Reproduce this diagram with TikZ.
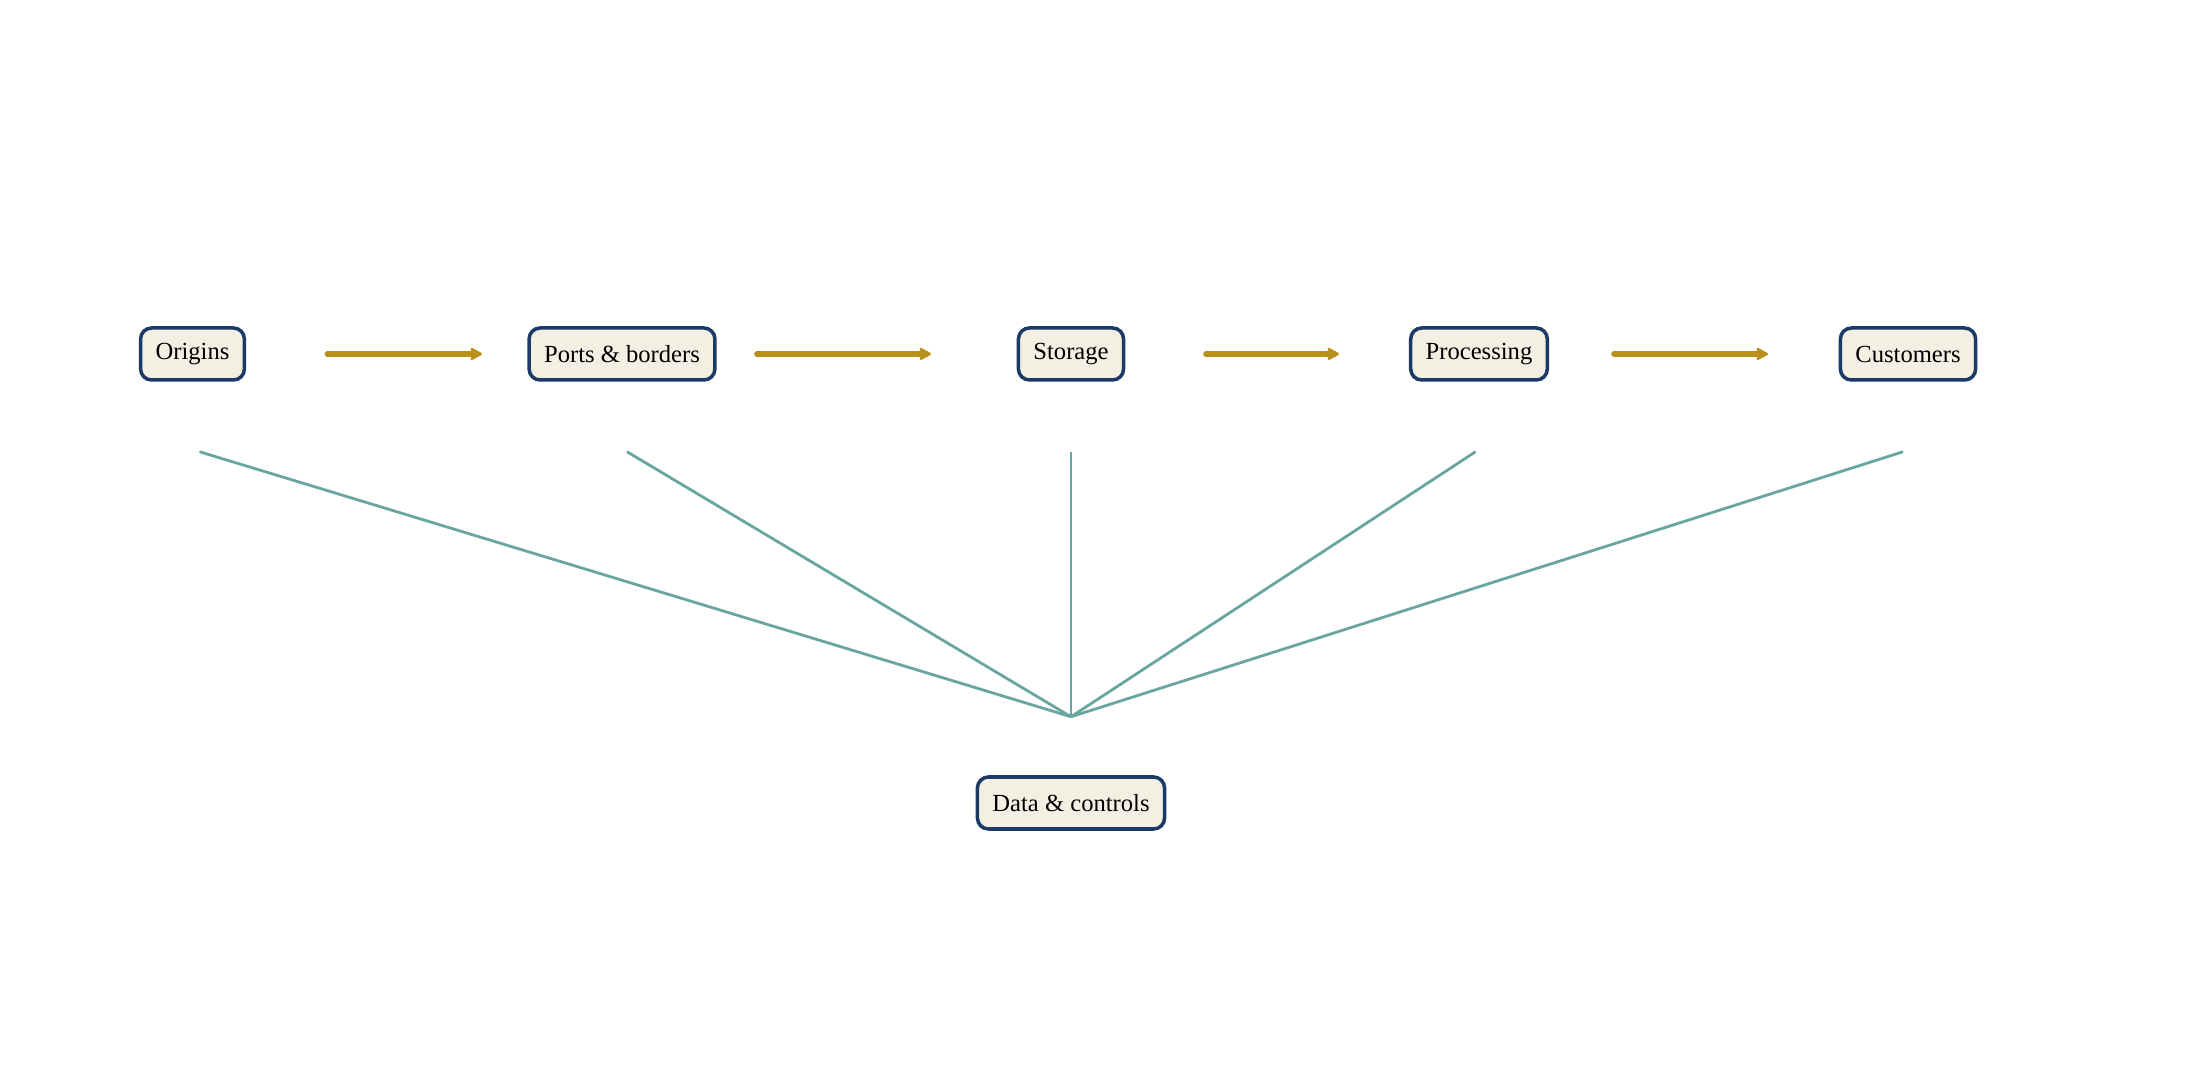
\documentclass[tikz,border=0pt]{standalone}
\usepackage{fontspec}
\setmainfont{Liberation Serif}
\usetikzlibrary{arrows.meta,positioning}

\definecolor{boxfill}{HTML}{F3EFE3}
\definecolor{boxline}{HTML}{1B3A66}
\definecolor{flowcol}{HTML}{B8901A}
\definecolor{linkcol}{HTML}{6AA6A0}

\begin{document}
\begin{tikzpicture}
\tikzstyle{stage} = [rectangle, draw=boxline, fill=boxfill, line width=2pt,
    rounded corners=0.22cm, inner xsep=0.3cm, minimum height=1.04cm,
    font=\fontsize{14}{16}\selectfont]
\tikzstyle{flow} = [draw=flowcol, line width=3.2pt, -{Stealth[length=0.3cm,width=0.32cm,round]},
    line cap=round, shorten <=2.7cm, shorten >=2.8cm]
\tikzstyle{link} = [draw=linkcol, line width=1.6pt]

\useasboundingbox (0,0) rectangle (43.74,21.74);

\node [stage] (origins) at (3.85,14.66) {Origins};
\node [stage] (ports) at (12.44,14.66) {Ports \& borders};
\node [stage] (storage) at (21.42,14.66) {Storage};
\node [stage] (processing) at (29.58,14.66) {Processing};
\node [stage] (customers) at (38.16,14.66) {Customers};
\node [stage] (data) at (21.42,5.68) {Data \& controls};

\coordinate (hub) at ([yshift=1.17cm]data.north);

\path [flow] (origins.center) -- (ports.center);
\path [flow] (ports.center) -- (storage.center);
\path [flow] (storage.center) -- (processing.center);
\path [flow] (processing.center) -- (customers.center);

\foreach \n/\dx in {origins/0.14, ports/0.1, storage/0, processing/-0.07, customers/-0.1} {
  \coordinate (\n-low) at ([xshift=\dx cm, yshift=-1.4cm]\n.south);
  \path [link] (\n-low) -- (hub);
}

\end{tikzpicture}
\end{document}
